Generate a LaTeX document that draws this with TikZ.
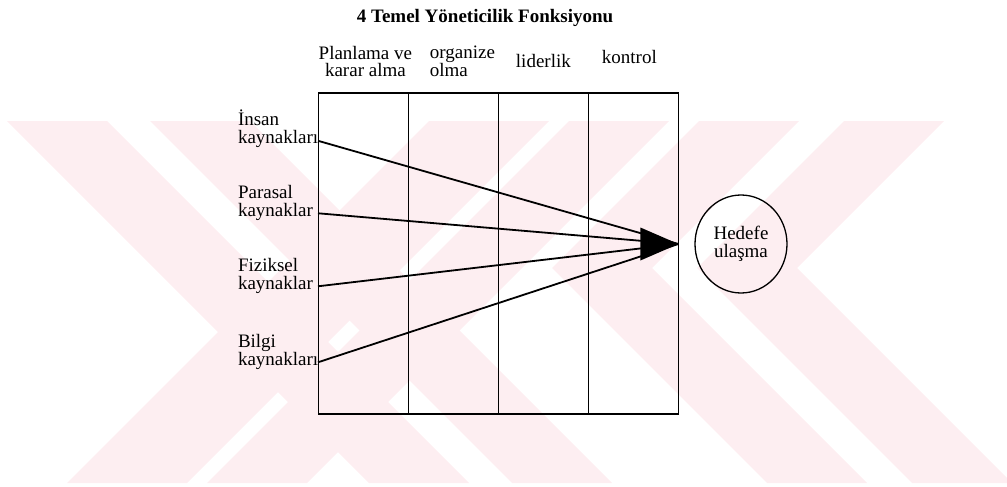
\documentclass[tikz,border=0pt]{standalone}
\usepackage{fontspec}
\setmainfont{Liberation Serif}
\usetikzlibrary{positioning, matrix, shapes.geometric}

\definecolor{tezmark}{RGB}{253,238,241}

\begin{document}
\begin{tikzpicture}
    [x = 1pt, y = -1pt, outer sep = 0pt,
    lane/.style={rectangle, draw=black, line width = 1.8pt, minimum width
      = 90pt, minimum height = 321pt, inner sep = 0pt},
    head/.style={font=\fontsize{19}{17}\selectfont, align=center, inner
      sep = 0pt},
    source/.style={font=\fontsize{19}{18}\selectfont, text width = 80pt,
      align=left, inner sep = 0pt},
    goal/.style={ellipse, draw=black, line width = 1.3pt, minimum width =
      92pt, minimum height = 98pt, inner sep = 0pt, align=center,
      font=\fontsize{19}{18}\selectfont},
    link/.style={line width = 1.8pt}]
    \useasboundingbox (0,0) rectangle (1007,487);
    \begin{scope}
      \clip (0,121) rectangle (1007,483);
      \fill[tezmark] (7,121) -- (107,121) -- (469,483) -- (369,483) -- cycle;
      \fill[tezmark] (150,121) -- (250,121) -- (612,483) -- (512,483) -- cycle;
      \fill[tezmark] (429,121) -- (549,121) -- (187,483) -- (67,483) -- cycle;
      \fill[tezmark] (569,121) -- (669,121) -- (307,483) -- (207,483) -- cycle;
      \fill[tezmark] (844,121) -- (944,121) -- (797,268) -- (1012,483)
        -- (912,483) -- (697,268) -- cycle;
      \fill[tezmark] (699,121) -- (799,121) -- (652,268) -- (867,483)
        -- (767,483) -- (552,268) -- cycle;
    \end{scope}
    \node[font=\bfseries\fontsize{19}{19}\selectfont, anchor=base] (title)
    at (485,23) {4 Temel Yöneticilik Fonksiyonu};
    \matrix (functions) [matrix of nodes, nodes in empty cells, column
    sep=-1.8pt, inner sep=0pt, anchor=north west, nodes={lane}] at (317.5,92) {
      & & & \\
    };
    \node[head, above=16pt of functions-1-1, xshift=2pt] (planlama) {Planlama ve\\karar alma};
    \node[head, align=left, above=16pt of functions-1-2, xshift=9pt] (organize) {organize\\olma};
    \node[head, above=25pt of functions-1-3] (liderlik) {liderlik};
    \node[head, above=29pt of functions-1-4, xshift=-4pt] (kontrol) {kontrol};
    \node[source, anchor=north west] (insan) at (238,110) {İnsan\\kaynakları};
    \node[source, anchor=north west] (parasal) at (238,185) {Parasal\\kaynaklar};
    \node[source, anchor=north west] (fiziksel) at (238,258) {Fiziksel\\kaynaklar};
    \node[source, anchor=north west] (bilgi) at (238,334) {Bilgi\\kaynakları};
    \node[goal] (hedef) at (741,244) {Hedefe\\ulaşma};
    \coordinate (tip) at (functions-1-4.east |- hedef.west);
    \foreach \src in {insan, parasal, fiziksel, bilgi}
      \draw[link] ([yshift=7pt]\src.south east) -- (tip);
    \fill (tip) -- ++(-38,-16.5) -- ++(0,33) -- cycle;
  \end{tikzpicture}
\end{document}
